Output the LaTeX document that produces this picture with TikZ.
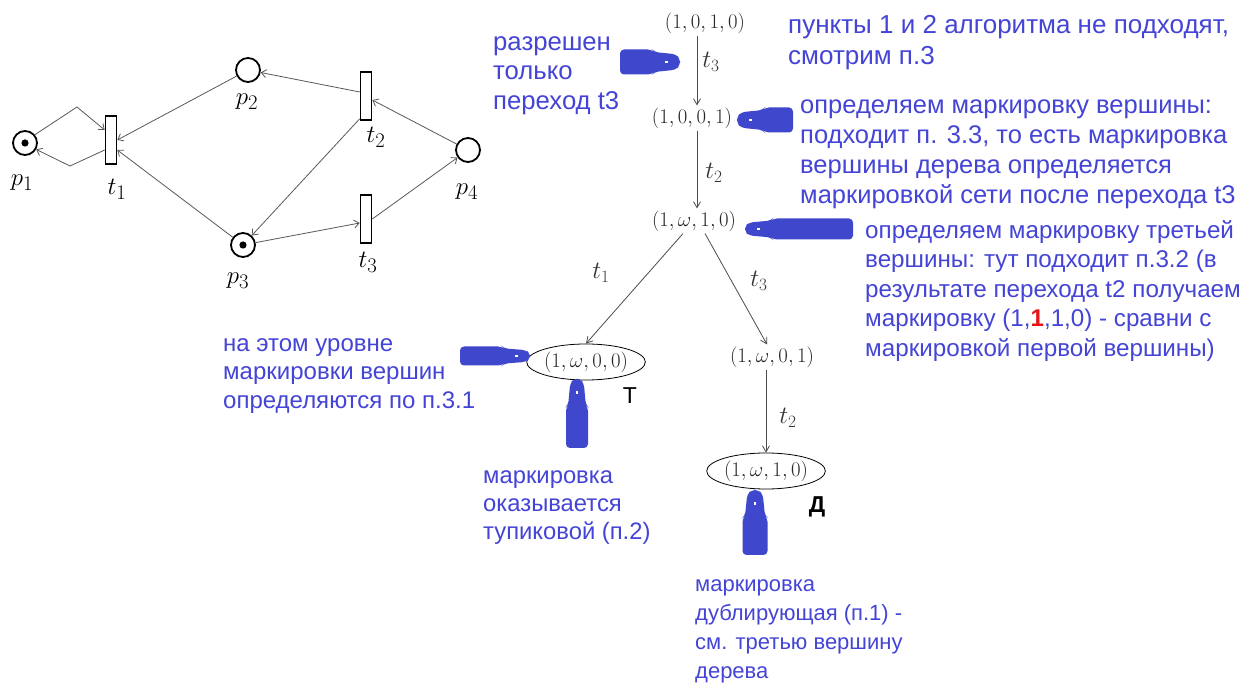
\documentclass[tikz,border=0pt]{standalone}
\usepackage{fontspec}
\usetikzlibrary{arrows.meta,shapes.geometric}
\newfontfamily\bluefont{Liberation Sans}
\definecolor{arrowblue}{RGB}{63,72,204}
\definecolor{noteblue}{RGB}{68,68,214}
\definecolor{redone}{RGB}{230,20,20}
\newcommand{\blueptr}[5]{%
  \begin{scope}[shift={(#1,#2)},rotate=#3]
    \fill[arrowblue,rounded corners=4pt] (-#4,-#5) -- (-28,-#5) -- (-26,-0.8*#5) -- (-4,-0.62*#5) -- (0,-0.25*#5) -- (0,0.25*#5) -- (-4,0.62*#5) -- (-26,0.8*#5) -- (-28,#5) -- (-#4,#5) -- cycle;
    \fill[white] (-15,-1) rectangle (-12,1);
  \end{scope}}
\begin{document}
\begin{tikzpicture}[x=1pt,y=-1pt,
  pnplace/.style={circle,draw=black,line width=1.8pt,minimum size=24pt,inner sep=0pt,fill=white},
  pntrans/.style={rectangle,draw=black,line width=1.6pt,fill=white,minimum width=11pt,minimum height=48pt,inner sep=0pt},
  pnarc/.style={draw=black!65,line width=0.8pt,-{Straight Barb[length=5pt,width=8pt]}},
  pnlab/.style={font=\fontsize{28}{30}\selectfont,inner sep=0pt},
  trnode/.style={font=\fontsize{21}{24}\selectfont,inner sep=2pt,text=black!85},
  trell/.style={trnode,ellipse,draw=black,line width=0.8pt,minimum width=102pt,minimum height=36pt,inner sep=0pt},
  tredge/.style={draw=black!70,line width=0.8pt,-{Straight Barb[length=6pt,width=7pt]}},
  trlab/.style={font=\fontsize{24}{26}\selectfont,inner sep=0pt,text=black!80},
  bnote/.style 2 args={text=noteblue,font=\bluefont\fontsize{#1}{#2}\selectfont,align=left,anchor=north west,inner sep=0pt},
  letter/.style={font=\bluefont\fontsize{23}{26}\selectfont,inner sep=0pt,text=black}]
\useasboundingbox (0,0) rectangle (1254,684);
\fill[white] (0,0) rectangle (1254,684);

% ---------------- Petri net ----------------
\node[pnplace] (p1) at (25,143) {};
\node[pnplace] (p2) at (248,70) {};
\node[pnplace] (p3) at (243,245) {};
\node[pnplace] (p4) at (468,150) {};
\fill (p1) circle (3.6pt);
\fill (p3) circle (3.6pt);
\node[pntrans] (t1) at (111,140) {};
\node[pntrans] (t2) at (366,96) {};
\node[pntrans] (t3) at (366,219) {};

\coordinate (b1) at (77,107);
\coordinate (b2) at (70,166);
\draw[pnarc] (p1.40) -- (b1) -- ([yshift=10pt]t1.west);
\draw[pnarc] ([yshift=-10pt]t1.west) -- (b2) -- (p1.-30);
\draw[pnarc] (p2) -- (t1.east);
\draw[pnarc] ([yshift=4pt]t2.west) -- (p2);
\draw[pnarc] (p4) -- ([yshift=-4pt]t2.east);
\draw[pnarc] ([yshift=2pt]t2.south west) -- (p3);
\draw[pnarc] (p3) -- ([yshift=-10pt]t1.east);
\draw[pnarc] (p3) -- ([yshift=-4pt]t3.west);
\draw[pnarc] (t3.east) -- (p4);

\node[pnlab] (lp1) at (22,183) {$p_1$};
\node[pnlab] (lp2) at (247,102) {$p_2$};
\node[pnlab] (lt1) at (117,189) {$t_1$};
\node[pnlab] (lt2) at (376,137) {$t_2$};
\node[pnlab] (lp4) at (467,192) {$p_4$};
\node[pnlab] (lt3) at (368,262) {$t_3$};
\node[pnlab] (lp3) at (238,281) {$p_3$};

% ---------------- tree ----------------
\node[trnode] (n1) at (705,23) {$(1,0,1,0)$};
\node[trnode] (n2) at (692,118) {$(1,0,0,1)$};
\node[trnode] (n3) at (694,221) {$(1,\omega,1,0)$};
\node[trell]  (n4) at (586,362) {$(1,\omega,0,0)$};
\node[trnode] (n5) at (772,357) {$(1,\omega,0,1)$};
\node[trell]  (n6) at (766,471) {$(1,\omega,1,0)$};

\draw[tredge] ([xshift=-8pt]n1.south) -- ([xshift=5pt]n2.north);
\draw[tredge] ([xshift=5pt]n2.south) -- ([xshift=3pt]n3.north);
\draw[tredge] ([xshift=-11pt]n3.south) -- (n4.north);
\draw[tredge] ([xshift=11pt]n3.south) -- ([xshift=-5pt]n5.north);
\draw[tredge] ([xshift=-6pt]n5.south) -- (n6.north);

\node[trlab] (e1) at (711,62) {$t_3$};
\node[trlab] (e2) at (714,173) {$t_2$};
\node[trlab] (e3) at (601,273) {$t_1$};
\node[trlab] (e4) at (759,281) {$t_3$};
\node[trlab] (e5) at (788,418) {$t_2$};

\node[letter] (lT) at (630,396) {Т};
\node[letter,font=\bluefont\bfseries\fontsize{23}{26}\selectfont] (lD) at (817,507) {Д};

% ---------------- blue pointers ----------------
\blueptr{680}{62}{0}{60}{12.5}
\blueptr{737}{120}{180}{56}{12.5}
\blueptr{745}{229}{180}{108}{10.5}
\blueptr{530}{356}{0}{70}{9.5}
\blueptr{577}{379}{90}{69}{11}
\blueptr{755}{490}{90}{65}{12.5}

% ---------------- notes ----------------
\node[bnote={25.7}{29.5}] (c1) at (493,29.4) {\strut разрешен\\только\\переход t3};
\node[bnote={26}{31}] (c2) at (788,11.3) {\strut пункты 1 и 2 алгоритма не подходят,\\смотрим п.3};
\node[bnote={25.5}{30}] (c3) at (800,92) {\strut определяем маркировку вершины:\\подходит п. 3.3, то есть маркировка\\вершины дерева определяется\\маркировкой сети после перехода t3};
\node[bnote={24.2}{29.5}] (c4) at (865,217.4) {\strut определяем маркировку третьей\\вершины: тут подходит п.3.2 (в\\результате перехода t2 получаем\\маркировку (1,{\color{redone}\bfseries 1},1,0) - сравни с\\маркировкой первой вершины)};
\node[bnote={24}{28.5}] (c5) at (223,331) {\strut на этом уровне\\маркировки вершин\\определяются по п.3.1};
\node[bnote={23.8}{28}] (c6) at (483,463.4) {\strut маркировка\\оказывается\\тупиковой (п.2)};
\node[bnote={22}{29}] (c7) at (695,570.7) {\strut маркировка\\дублирующая (п.1) -\\см. третью вершину\\дерева};
\end{tikzpicture}
\end{document}
